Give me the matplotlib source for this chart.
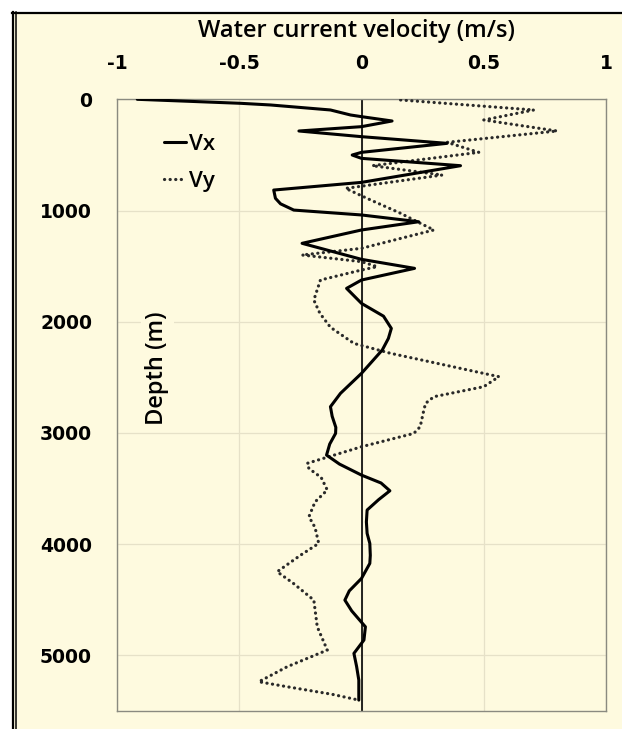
import matplotlib
matplotlib.use("Agg")
import matplotlib.pyplot as plt
from matplotlib.lines import Line2D
from matplotlib.patches import Rectangle

# ---- data ----
vx_depth = [0, 36, 51, 96, 141, 156, 195, 246, 285, 336, 396, 477, 501, 531, 597,
            747, 816, 890, 940, 996, 1040, 1101, 1175, 1295, 1439, 1520, 1625, 1700,
            1835, 1950, 2060, 2150, 2254, 2464, 2644, 2764, 2850, 2950, 3004, 3100,
            3199, 3280, 3379, 3450, 3520, 3600, 3693, 3800, 3903, 3993, 4100, 4173,
            4308, 4420, 4503, 4600, 4743, 4862, 4982, 5100, 5222, 5402]
vx = [-0.917, -0.495, -0.372, -0.127, -0.045, 0.0, 0.125, 0.0, -0.256, 0.0, 0.35, 0.0,
      -0.038, 0.0, 0.405, 0.0, -0.359, -0.352, -0.331, -0.277, 0.0, 0.234, 0.0, -0.243,
      0.0, 0.217, 0.0, -0.061, 0.0, 0.09, 0.122, 0.11, 0.085, 0.0, -0.086, -0.127,
      -0.12, -0.105, -0.106, -0.13, -0.143, -0.09, 0.0, 0.08, 0.116, 0.07, 0.023,
      0.02, 0.023, 0.034, 0.036, 0.034, 0.0, -0.05, -0.068, -0.04, 0.016, 0.01,
      -0.031, -0.02, -0.011, -0.011]

vy_depth = [6, 96, 186, 285, 387, 477, 597, 681, 801, 905, 1025, 1101, 1175, 1340,
            1400, 1460, 1505, 1535, 1625, 1805, 1925, 2050, 2195, 2284, 2494, 2584,
            2674, 2734, 2794, 2944, 3004, 3124, 3273, 3320, 3400, 3513, 3620, 3753,
            3850, 3993, 4100, 4248, 4350, 4503, 4743, 4952, 5102, 5237, 5282, 5350,
            5402]
vy = [0.16, 0.705, 0.5, 0.80, 0.35, 0.48, 0.044, 0.33, -0.065, 0.037, 0.16, 0.228,
      0.296, 0.0, -0.243, 0.0, 0.064, 0.0, -0.168, -0.195, -0.17, -0.127, -0.031,
      0.119, 0.562, 0.5, 0.296, 0.262, 0.255, 0.24, 0.214, 0.0, -0.222, -0.215,
      -0.165, -0.14, -0.19, -0.215, -0.19, -0.175, -0.25, -0.345, -0.28, -0.195,
      -0.181, -0.14, -0.304, -0.42, -0.304, -0.12, -0.011]

x_ticks = [-1, -0.5, 0, 0.5, 1]
x_tick_labels = ["-1", "-0.5", "0", "0.5", "1"]
y_ticks = [0, 1000, 2000, 3000, 4000, 5000]
y_tick_labels = ["0", "1000", "2000", "3000", "4000", "5000"]

BG = "#FEFADF"
GRID = "#E6E1C8"

fig = plt.figure(figsize=(6.22, 7.29), dpi=100)
fig.patch.set_facecolor(BG)
W, H = 622, 729

# outer frame (white strips + black borders)
fig.patches.append(Rectangle((0, 1 - 12 / H), 1, 12 / H, transform=fig.transFigure,
                             facecolor="white", edgecolor="none", zorder=0))
fig.patches.append(Rectangle((0, 0), 12 / W, 1, transform=fig.transFigure,
                             facecolor="white", edgecolor="none", zorder=0))
fig.lines.append(Line2D([12 / W, 1], [1 - 13 / H, 1 - 13 / H], transform=fig.transFigure,
                        color="black", lw=1.6))
fig.lines.append(Line2D([13.2 / W, 13.2 / W], [0, 1 - 12 / H], transform=fig.transFigure,
                        color="black", lw=1.6))
fig.lines.append(Line2D([16.2 / W, 16.2 / W], [0, 1 - 12 / H], transform=fig.transFigure,
                        color="black", lw=1.1))

ax = fig.add_axes([117 / W, 1 - 711 / H, (606 - 117) / W, (711 - 99.3) / H])
ax.set_facecolor(BG)
ax.set_xlim(-1, 1)
ax.set_ylim(5500, 0)

ax.set_xticks(x_ticks)
ax.set_xticklabels(x_tick_labels)
ax.set_yticks(y_ticks)
ax.set_yticklabels(y_tick_labels)
ax.xaxis.tick_top()
ax.tick_params(axis="both", length=0, labelsize=13.5, colors="black")
ax.tick_params(axis="x", pad=19)
ax.tick_params(axis="y", pad=18)
for lab in ax.get_xticklabels() + ax.get_yticklabels():
    lab.set_fontweight("bold")
    lab.set_family("DejaVu Sans")

ax.grid(True, color=GRID, lw=0.9)
ax.set_axisbelow(True)
for s in ax.spines.values():
    s.set_color("#8A8A80")
    s.set_linewidth(1.0)

ax.axvline(0, color="black", lw=1.2, zorder=2)

ax.plot(vx, vx_depth, color="black", lw=2.2, solid_joinstyle="round",
        solid_capstyle="round", label="Vx", zorder=4)
ax.plot(vy, vy_depth, color="#2A2A2A", lw=2.3, linestyle=(0, (0.05, 1.7)),
        dash_capstyle="round", label="Vy", zorder=3)

fig.text(357 / W, 1 - 31 / H, "Water current velocity (m/s)", ha="center", va="center",
         fontsize=17, fontweight="semibold", family="Open Sans")

ax.text(-0.835, 2420, "Depth (m)", rotation=90, ha="center", va="center",
        fontsize=17, fontweight="semibold", family="Open Sans",
        bbox=dict(facecolor=BG, edgecolor="none", pad=3))

leg = ax.legend(loc="upper left", bbox_to_anchor=(0.097, 0.944), frameon=False,
                handlelength=0.95, handletextpad=0.15, labelspacing=0.75,
                borderpad=0, borderaxespad=0,
                prop=dict(family="Open Sans", weight="semibold", size=16))

fig.savefig("out.png", dpi=100, facecolor=BG)
